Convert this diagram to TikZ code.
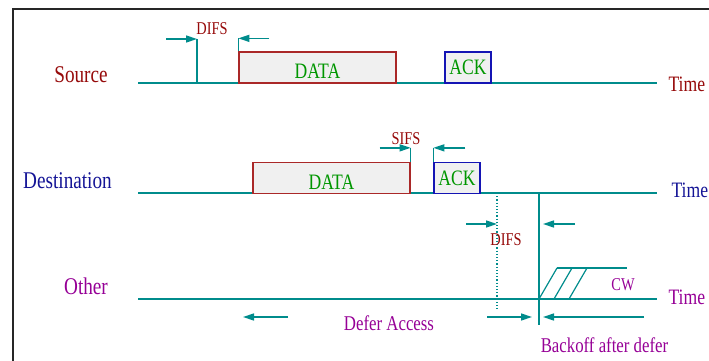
\documentclass[tikz,border=0pt]{standalone}
\usepackage{fontspec}
\setmainfont[FakeStretch=0.8]{Liberation Serif}
\usepackage{xcolor}
\usetikzlibrary{arrows.meta}

\definecolor{tealline}{RGB}{0,140,140}
\definecolor{srcred}{RGB}{150,10,10}
\definecolor{dstblue}{RGB}{20,20,150}
\definecolor{othpurple}{RGB}{150,0,150}
\definecolor{pktgreen}{RGB}{0,150,0}
\definecolor{pktgray}{RGB}{240,240,240}
\definecolor{datared}{RGB}{170,40,40}
\definecolor{ackblue}{RGB}{20,20,180}

\tikzset{
	timeline/.style={tealline, line width=1.2pt},
	gaparrow/.style={tealline, line width=1.4pt, -{Triangle[length=11pt,width=7pt]}},
	pkt/.style={draw, fill=pktgray, line width=1.3pt, minimum height=31pt, inner sep=0pt, text=pktgreen, font=\fontsize{22}{22}\selectfont},
	datapkt/.style={pkt, draw=datared, minimum width=157pt, text height=22pt, text depth=0pt},
	ackpkt/.style={pkt, draw=ackblue, minimum width=46pt},
	station/.style={font=\fontsize{24}{24}\selectfont, anchor=base},
	timelabel/.style={font=\fontsize{22}{22}\selectfont, anchor=base west},
	ifs/.style={font=\fontsize{18}{18}\selectfont, text=srcred},
	note/.style={font=\fontsize{21}{21}\selectfont, text=othpurple, anchor=base}
}

\begin{document}
\begin{tikzpicture}[x=1pt, y=-1pt]
	\useasboundingbox (0,0) rectangle (709,361);
	% frame
	\draw[line width=2.5pt, black!85] (13,365) -- (13,9) -- (715,9);

	% Source
	\node[station, text=srcred] (src) at (81,82) {Source};
	\coordinate (srcstart) at (138,83);
	\coordinate (srcend) at (657,83);
	\draw[timeline] (srcstart) -- (srcend);
	\node[timelabel, text=srcred] (srctime) at (665,92) {Time};
	\node[datapkt] (srcdata) at (317.5,67.5) {DATA};
	\node[ackpkt] (srcack) at (468,67.5) {ACK};
	\coordinate (difsa) at (197,39);
	\draw[timeline] (difsa) -- (difsa |- srcstart);
	\draw[timeline] (srcdata.north west) -- ++(0,-13) coordinate (difsb);
	\draw[gaparrow] ([xshift=-31pt]difsa) -- (difsa);
	\draw[gaparrow] ([xshift=31pt]difsb) -- (difsb);
	\node[ifs] (difs1) at (212,29) {DIFS};

	% Destination
	\node[station, text=dstblue] (dst) at (67.5,188) {Destination};
	\coordinate (dststart) at (138,193);
	\coordinate (dstend) at (657,193);
	\draw[timeline] (dststart) -- (dstend);
	\node[timelabel, text=dstblue] (dsttime) at (668,197) {Time};
	\node[datapkt] (dstdata) at (331.5,178) {DATA};
	\node[ackpkt] (dstack) at (457,178) {ACK};
	\draw[timeline] (dstdata.north east) -- ++(0,-14) coordinate (sifsa);
	\draw[timeline] (dstack.north west) -- ++(0,-14) coordinate (sifsb);
	\draw[gaparrow] ([xshift=-31pt]sifsa) -- (sifsa);
	\draw[gaparrow] ([xshift=32pt]sifsb) -- (sifsb);
	\node[ifs] (sifs) at (406,139) {SIFS};

	% DIFS after ACK
	\coordinate (idle) at (497,193);
	\coordinate (busy) at (539,193);
	\draw[timeline, dotted] (idle) -- ++(0,117);
	\draw[timeline] (busy) -- ++(0,132);
	\draw[gaparrow] (466,224) coordinate (difsc) -- (difsc -| idle);
	\draw[gaparrow] (575,224) coordinate (difsd) -- ([xshift=4pt]difsd -| busy);
	\node[ifs] (difs2) at (506,240) {DIFS};

	% Other
	\node[station, text=othpurple] (oth) at (86,294) {Other};
	\coordinate (othstart) at (138,299);
	\coordinate (othend) at (657,299);
	\draw[timeline] (othstart) -- (othend);
	\node[timelabel, text=othpurple] (othtime) at (665,304) {Time};

	% contention window
	\draw[timeline] (557,268) coordinate (cwtop) -- (627,268);
	\foreach \s in {0,15,30}
		\draw[timeline] (539+\s,299) -- (557+\s,268);
	\node[font=\fontsize{18}{18}\selectfont, text=othpurple] (cw) at (623,285) {CW};

	% defer / backoff
	\draw[gaparrow] (288,317) -- (243,317);
	\draw[gaparrow] (487,317) -- ([xshift=-7pt]busy |- 0,317);
	\draw[gaparrow] (644,317) -- ([xshift=4pt]busy |- 0,317);
	\node[note] (defer) at (389,330) {Defer Access};
	\node[note] (backoff) at (604.5,352) {Backoff after defer};
\end{tikzpicture}
\end{document}
